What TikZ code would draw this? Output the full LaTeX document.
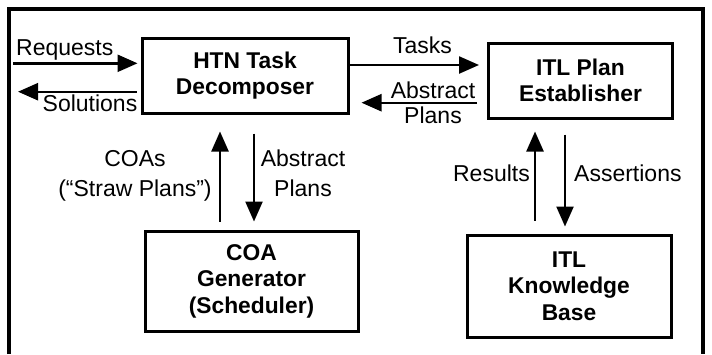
\documentclass[tikz,border=0pt]{standalone}
\usepackage{fontspec}
\setmainfont{Liberation Sans}
\usetikzlibrary{arrows.meta}

\begin{document}
\begin{tikzpicture}[x=1pt, y=-1pt,
    box/.style={draw, line width=3pt, inner sep=0pt, align=center,
        font=\fontsize{22.8}{26.5}\selectfont\bfseries},
    lbl/.style={inner sep=0pt, font=\fontsize{23}{30}\selectfont},
    arr/.style={line width=2.4pt, -{Triangle[length=20pt, width=17pt]}}]
    \useasboundingbox (0,0) rectangle (712,354);

    % Cornice
    \draw[line width=3.2pt] (9,354) -- (9,9) -- (703,9) -- (703,354);

    % Blocchi
    \node[box, minimum width=206pt, minimum height=75pt] (htn) at (245,75.5) {HTN Task\\Decomposer};
    \node[box, minimum width=184pt, minimum height=75pt] (ple) at (580.5,80.5) {ITL Plan\\Establisher};
    \node[box, minimum width=213pt, minimum height=100pt] (coa) at (251.5,281) {COA\\Generator\\(Scheduler)};
    \node[box, minimum width=204pt, minimum height=102pt] (kb) at (569,286) {ITL\\Knowledge\\Base};

    % Punti di riferimento per le frecce
    \coordinate (reqy) at (13,63.3);
    \coordinate (soly) at (18,91.7);
    \coordinate (tasky) at (0,65);
    \coordinate (absy) at (0,102.7);
    \coordinate (coax) at (220,0);
    \coordinate (absx) at (254,0);
    \coordinate (resx) at (535,0);
    \coordinate (assx) at (565,0);

    % Frecce orizzontali
    \draw[arr, shorten >=3pt] (reqy) -- (reqy -| htn.west);
    \draw[arr, shorten <=4pt] (htn.west |- soly) -- (soly);
    \draw[arr, shorten >=8pt] (htn.east |- tasky) -- (ple.west |- tasky);
    \draw[arr, shorten <=10pt, shorten >=12pt] (ple.west |- absy) -- (htn.east |- absy);

    % Frecce verticali
    \draw[arr, shorten <=8pt, shorten >=17pt] (coa.north -| coax) -- (htn.south -| coax);
    \draw[arr, shorten <=19pt, shorten >=8pt] (htn.south -| absx) -- (coa.north -| absx);
    \draw[arr, shorten <=13pt, shorten >=12pt] (kb.north -| resx) -- (ple.south -| resx);
    \draw[arr, shorten <=15pt, shorten >=7pt] (ple.south -| assx) -- (kb.north -| assx);

    % Etichette
    \node[lbl, anchor=base west] (lreq) at (16,55) {Requests};
    \node[lbl, anchor=base east] (lsol) at (137.5,111.7) {Solutions};
    \node[lbl, anchor=base] (ltask) at (422.5,53) {Tasks};
    \node[lbl, align=center, font=\fontsize{23}{24.5}\selectfont] (labsr) at (433,103) {Abstract\\Plans};
    \node[lbl, align=center] (lcoa) at (135,176) {COAs\\(“Straw Plans”)};
    \node[lbl, align=center] (labsd) at (303,173.5) {Abstract\\Plans};
    \node[lbl, anchor=base east] (lres) at (530,181.7) {Results};
    \node[lbl, anchor=base west] (lass) at (574,181.7) {Assertions};

\end{tikzpicture}
\end{document}
